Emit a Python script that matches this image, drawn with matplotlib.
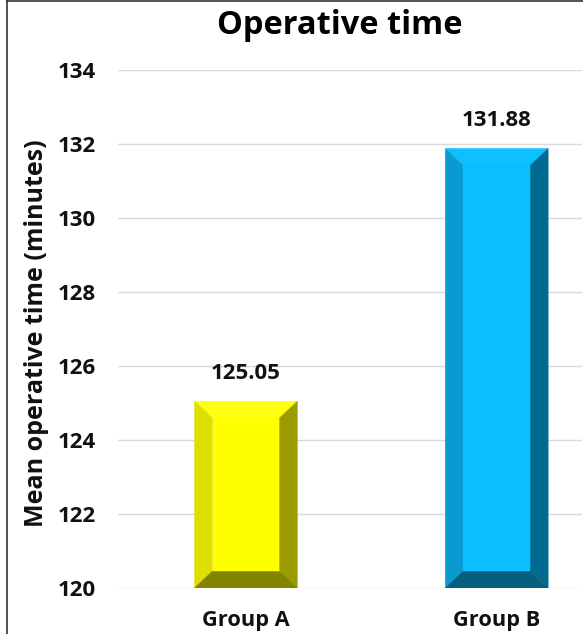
import matplotlib
matplotlib.use("Agg")
import matplotlib.pyplot as plt
from matplotlib.patches import Polygon
from matplotlib.lines import Line2D

plt.rcParams['font.family'] = ['Open Sans', 'DejaVu Sans']

groups = ["Group A", "Group B"]
means = [125.05, 131.88]
value_labels = ["125.05", "131.88"]
yticks = [120, 122, 124, 126, 128, 130, 132, 134]

# face, top, left, right, bottom bevel colours
palettes = [
    ("#FFFF00", "#FFFF10", "#DEDE00", "#9B9B00", "#848400"),
    ("#0DBEFF", "#0FC0FF", "#0A9AD2", "#006A90", "#075F7E"),
]

fig = plt.figure(figsize=(5.83, 6.34), dpi=100)
ax = fig.add_axes([118 / 583, 1 - 588 / 634, 464 / 583, (588 - 70) / 634])

base = 120
width = 0.41
bx = 0.072   # bevel depth in x (data units)
by = 0.46    # bevel depth in y (data units)

for i, (val, pal) in enumerate(zip(means, palettes)):
    face, top, left, right, bottom = pal
    x0, x1 = i - width / 2, i + width / 2
    y0, y1 = base, val
    ix0, ix1 = x0 + bx, x1 - bx
    iy0, iy1 = y0 + by, y1 - by
    polys = [
        ([(x0, y1), (x1, y1), (ix1, iy1), (ix0, iy1)], top),
        ([(x0, y0), (x0, y1), (ix0, iy1), (ix0, iy0)], left),
        ([(x1, y0), (x1, y1), (ix1, iy1), (ix1, iy0)], right),
        ([(x0, y0), (x1, y0), (ix1, iy0), (ix0, iy0)], bottom),
        ([(ix0, iy0), (ix1, iy0), (ix1, iy1), (ix0, iy1)], face),
    ]
    for pts, c in polys:
        ax.add_patch(Polygon(pts, closed=True, facecolor=c, edgecolor=c,
                             linewidth=0.3, zorder=3))
    ax.text(i, val + 0.76, value_labels[i], ha="center", va="center",
            fontsize=16, fontweight="bold", color="#111111", zorder=4)

ax.set_xlim(-0.51, 1.34)
ax.set_ylim(120, 134)
ax.set_yticks(yticks)
ax.set_yticklabels([str(t) for t in yticks], fontsize=16, fontweight="bold")
ax.set_xticks(range(len(groups)))
ax.set_xticklabels(groups, fontsize=15.7, fontweight="bold")
ax.tick_params(axis="both", length=0, colors="#111111")
ax.tick_params(axis="y", pad=16)
ax.tick_params(axis="x", pad=16)
ax.grid(axis="y", color="#D9D9D9", linewidth=1.0, zorder=0)
ax.set_axisbelow(True)
for s in ax.spines.values():
    s.set_visible(False)

fig.text(37 / 583, 1 - 333 / 634, "Mean operative time (minutes)",
         rotation=90, ha="center", va="center", fontsize=18,
         fontweight="bold", color="#111111")

fig.text(340 / 583, 1 - 34 / 634, "Operative time", ha="center",
         va="baseline", fontsize=23.5, fontweight="bold", color="#000000")

# chart frame on the left and top
fig.add_artist(Line2D([7 / 583, 7 / 583], [0, 1], transform=fig.transFigure,
                      color="#333333", linewidth=1.2))
fig.add_artist(Line2D([7 / 583, 1], [1 - 0.5 / 634, 1 - 0.5 / 634],
                      transform=fig.transFigure, color="#333333", linewidth=1.2))

fig.savefig("out.png", dpi=100)
